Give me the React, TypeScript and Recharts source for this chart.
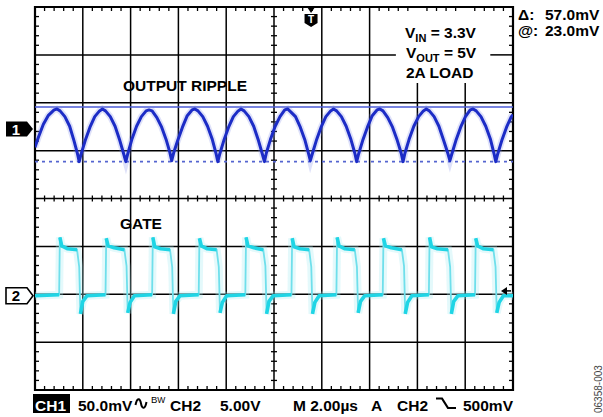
import {
  ComposedChart,
  Line,
  XAxis,
  YAxis,
  ReferenceLine,
  ReferenceArea,
  ReferenceDot,
} from 'recharts'

// screen is 10 x 8 divisions, 2.00µs/div, y in divisions from centre
const xMajor = [0, 2, 4, 6, 8, 10, 12, 14, 16, 18, 20]
const yMajor = [-4, -3, -2, -1, 0, 1, 2, 3, 4]

const CH1_POS = 1.45 // ground marker of CH1, div above centre
const CH2_POS = -2.03
const CH1_MV_PER_DIV = 50
const CH2_V_PER_DIV = 5
const TRIG_T = 11.55
const TRIG_LEVEL_V = 0.5
const CURSOR_AT_MV = 23.0
const CURSOR_DELTA_MV = 57.0

// CH1 output ripple (µs, mV)
const rippleT = [
  0, 0.15, 0.35, 0.55, 0.8, 0.92, 1.05, 1.25, 1.45, 1.63, 1.77,
  1.85, 1.93, 2.1, 2.3, 2.5, 2.7, 2.82, 2.95, 3.15, 3.35, 3.55, 3.7,
  3.8, 3.88, 4.05, 4.25, 4.45, 4.65, 4.77, 4.9, 5.1, 5.3, 5.5, 5.64,
  5.72, 5.8, 5.97, 6.17, 6.37, 6.57, 6.69, 6.82, 7.02, 7.22, 7.42, 7.57,
  7.65, 7.73, 7.9, 8.1, 8.3, 8.5, 8.62, 8.75, 8.95, 9.15, 9.35, 9.5,
  9.6, 9.68, 9.85, 10.05, 10.25, 10.45, 10.57, 10.7, 10.9, 11.1, 11.3, 11.44,
  11.52, 11.6, 11.77, 11.97, 12.17, 12.37, 12.49, 12.62, 12.82, 13.02, 13.22, 13.38,
  13.46, 13.54, 13.71, 13.91, 14.11, 14.31, 14.43, 14.56, 14.76, 14.96, 15.16, 15.32,
  15.4, 15.48, 15.65, 15.85, 16.05, 16.25, 16.37, 16.5, 16.7, 16.9, 17.1, 17.27,
  17.36, 17.44, 17.61, 17.81, 18.01, 18.21, 18.33, 18.46, 18.66, 18.86, 19.06, 19.2,
  19.28, 19.36, 19.53, 19.73, 19.93, 20.0,
]
const rippleMv = [
  -19, -8, 5, 14, 20, 21, 19, 13, 3, -12, -25,
  -34, -26, -12, 2, 13, 19, 21, 19, 13, 3, -12, -25,
  -34, -26, -11, 3, 13, 19, 20, 19, 12, 2, -12, -24,
  -33, -25, -12, 2, 14, 20, 21, 19, 13, 3, -11, -25,
  -34, -26, -12, 2, 13, 19, 21, 19, 13, 3, -12, -25,
  -34, -25, -11, 3, 13, 20, 21, 18, 13, 2, -12, -25,
  -33, -26, -12, 2, 13, 19, 21, 19, 13, 3, -11, -25,
  -34, -26, -12, 2, 14, 20, 21, 19, 12, 2, -12, -25,
  -34, -25, -11, 3, 13, 19, 21, 19, 13, 3, -12, -25,
  -33, -26, -12, 2, 13, 20, 21, 19, 13, 3, -11, -25,
  -34, -26, -12, 2, 13, 15,
]

// CH2 gate drive (µs, V)
const gateT = [
  0,
  1.01, 1.04, 1.12, 1.37, 1.76, 1.85, 1.9, 2.0, 2.18,
  2.95, 2.98, 3.06, 3.31, 3.74, 3.83, 3.88, 3.98, 4.16,
  4.9, 4.93, 5.01, 5.26, 5.65, 5.74, 5.79, 5.89, 6.07,
  6.85, 6.88, 6.96, 7.21, 7.6, 7.69, 7.74, 7.84, 8.02,
  8.8, 8.83, 8.91, 9.16, 9.55, 9.64, 9.69, 9.79, 9.97,
  10.73, 10.76, 10.84, 11.09, 11.47, 11.56, 11.61, 11.71, 11.89,
  12.61, 12.64, 12.72, 12.97, 13.38, 13.47, 13.52, 13.62, 13.8,
  14.55, 14.58, 14.66, 14.91, 15.35, 15.44, 15.49, 15.59, 15.77,
  16.48, 16.51, 16.59, 16.84, 17.28, 17.37, 17.42, 17.52, 17.7,
  18.41, 18.44, 18.52, 18.77, 19.18, 19.27, 19.32, 19.42, 19.6,
  20,
]
const gateV = [
  0,
  0.1, 6.1, 5.2, 4.9, 4.8, 3.0, -1.9, -0.6, 0,
  0.1, 6.0, 5.2, 5.0, 4.8, 3.1, -1.8, -0.7, 0,
  0.1, 6.1, 5.1, 4.9, 4.8, 3.0, -1.9, -0.6, 0,
  0.1, 6.0, 5.2, 4.9, 4.8, 3.0, -1.8, -0.7, 0,
  0.1, 6.1, 5.2, 5.0, 4.8, 3.1, -1.9, -0.6, 0,
  0.1, 6.0, 5.1, 4.9, 4.8, 3.0, -1.9, -0.7, 0,
  0.1, 6.1, 5.2, 4.9, 4.8, 3.0, -1.8, -0.6, 0,
  0.1, 6.0, 5.2, 5.0, 4.8, 3.1, -1.9, -0.7, 0,
  0.1, 6.1, 5.1, 4.9, 4.8, 3.0, -1.9, -0.6, 0,
  0.1, 6.0, 5.2, 4.9, 4.8, 3.0, -1.8, -0.7, 0,
  0,
]

const rippleData = rippleT.map((t, i) => ({ t, y: CH1_POS + rippleMv[i] / CH1_MV_PER_DIV }))
const gateData = gateT.map((t, i) => ({ t, y: CH2_POS + gateV[i] / CH2_V_PER_DIV }))

// the fast edges show faint on the scope, so the bright layer skips them
const gateLevels: { t: number; y: number | null }[] = []
gateData.forEach((p, i) => {
  gateLevels.push(p)
  if (i < gateV.length - 1 && Math.abs(gateV[i + 1] - gateV[i]) > 1.5) {
    gateLevels.push({ t: (gateT[i] + gateT[i + 1]) / 2, y: null })
  }
})

// plot geometry (for tick lengths only)
const W = 603
const H = 417
const M = { top: 7, right: 90, bottom: 27, left: 35 }
const PX_PER_US = (W - M.left - M.right) / 20
const PX_PER_DIV = (H - M.top - M.bottom) / 8

// area kept clear behind the test conditions
const PANEL = { x1: 15.1, x2: 19.05, y1: 2.41, y2: 3.88 }

type Seg = [{ x: number; y: number }, { x: number; y: number }]
const gridSegs: Seg[] = []
xMajor.slice(1, -1).forEach(t => {
  const top = t > PANEL.x1 && t < PANEL.x2 ? PANEL.y1 : 4
  gridSegs.push([{ x: t, y: -4 }, { x: t, y: top }])
})
yMajor.slice(1, -1).forEach(y => {
  if (y > PANEL.y1 && y < PANEL.y2) {
    gridSegs.push([{ x: 0, y }, { x: PANEL.x1, y }])
    gridSegs.push([{ x: PANEL.x2, y }, { x: 20, y }])
  } else {
    gridSegs.push([{ x: 0, y }, { x: 20, y }])
  }
})

// minor graticule ticks, 5 per division
const xMinor: number[] = []
for (let i = 1; i < 50; i++) if (i % 5) xMinor.push(i * 0.4)
const yMinor: number[] = []
for (let i = 1; i < 40; i++) if (i % 5) yMinor.push(-4 + i * 0.2)

const edgeDy = 4 / PX_PER_DIV
const edgeDx = 4 / PX_PER_US
const midDy = 3 / PX_PER_DIV
const midDx = 3 / PX_PER_US
const tickSegs: Seg[] = []
xMinor.forEach(t => {
  tickSegs.push([{ x: t, y: 4 }, { x: t, y: 4 - edgeDy }])
  tickSegs.push([{ x: t, y: -4 }, { x: t, y: -4 + edgeDy }])
  tickSegs.push([{ x: t, y: -midDy }, { x: t, y: midDy }])
})
yMinor.forEach(y => {
  tickSegs.push([{ x: 0, y }, { x: edgeDx, y }])
  tickSegs.push([{ x: 20, y }, { x: 20 - edgeDx, y }])
  tickSegs.push([{ x: 10 - midDx, y }, { x: 10 + midDx, y }])
})

const FONT = '"Liberation Sans", Arial, Helvetica, sans-serif'

function Ch1Marker(p: any) {
  const { cx, cy } = p
  return (
    <g>
      <path d={`M${cx - 29},${cy - 7.5} H${cx - 8} L${cx - 2},${cy} L${cx - 8},${cy + 7.5} H${cx - 29} Z`} fill="#000" />
      <text x={cx - 19} y={cy + 5.5} fill="#fff" fontSize={15} fontWeight="bold" fontFamily={FONT} textAnchor="middle">1</text>
    </g>
  )
}

function Ch2Marker(p: any) {
  const { cx, cy } = p
  return (
    <g>
      <path d={`M${cx - 29},${cy - 8} H${cx - 8} L${cx - 2},${cy} L${cx - 8},${cy + 8} H${cx - 29} Z`} fill="#fff" stroke="#000" strokeWidth={1.6} />
      <text x={cx - 19} y={cy + 5.5} fill="#000" fontSize={15} fontWeight="bold" fontFamily={FONT} textAnchor="middle">2</text>
    </g>
  )
}

function TrigMarker(p: any) {
  const { cx, cy } = p
  return (
    <g>
      <path d={`M${cx - 4},${cy} L${cx + 4},${cy} L${cx},${cy + 6} Z`} fill="#000" />
      <path d={`M${cx - 6.5},${cy + 7} H${cx + 6.5} V${cy + 16} L${cx},${cy + 20} L${cx - 6.5},${cy + 16} Z`} fill="#000" />
      <text x={cx} y={cy + 16} fill="#fff" fontSize={10} fontWeight="bold" fontFamily={FONT} textAnchor="middle">T</text>
    </g>
  )
}

function LevelMarker(p: any) {
  const { cx, cy } = p
  return (
    <g>
      <path d={`M${cx - 12},${cy} L${cx - 6},${cy - 4} L${cx - 6},${cy + 4} Z`} fill="#000" />
      <line x1={cx - 7} x2={cx - 2} y1={cy} y2={cy} stroke="#000" strokeWidth={1.5} />
    </g>
  )
}

export default function App() {
  const txt = { fontFamily: FONT, fontWeight: 'bold' as const, fontSize: 15.5, fill: '#000' }
  return (
    <div style={{ position: 'relative', width: W, height: H, background: '#fff' }}>
      <style>{'body{margin:0}'}</style>
      <ComposedChart width={W} height={H} margin={M} style={{ position: 'absolute', left: 0, top: 0 }}>
        <XAxis type="number" dataKey="t" domain={[0, 20]} ticks={xMajor} tick={false} tickLine={false} axisLine={false} height={0} allowDataOverflow />
        <YAxis type="number" dataKey="y" domain={[-4, 4]} ticks={yMajor} tick={false} tickLine={false} axisLine={false} width={0} allowDataOverflow />

        {gridSegs.map((s, i) => (
          <ReferenceLine key={'g' + i} segment={s} stroke="#000" strokeWidth={1.5} ifOverflow="visible" />
        ))}
        {tickSegs.map((s, i) => (
          <ReferenceLine key={'k' + i} segment={s} stroke="#000" strokeWidth={1.3} ifOverflow="visible" />
        ))}
        <ReferenceArea x1={0} x2={20} y1={-4} y2={4} fill="none" stroke="#000" strokeWidth={2.2} ifOverflow="visible" />

        <ReferenceLine y={CH1_POS + CURSOR_AT_MV / CH1_MV_PER_DIV} stroke="#4b5bd6" strokeWidth={1.5} />
        <ReferenceLine
          y={CH1_POS + (CURSOR_AT_MV - CURSOR_DELTA_MV) / CH1_MV_PER_DIV}
          stroke="#5565d0"
          strokeWidth={1.6}
          strokeDasharray="3 4"
        />

        <Line data={gateData} dataKey="y" type="linear" stroke="#a6ecf3" strokeOpacity={0.3} strokeWidth={8} dot={false} isAnimationActive={false} />
        <Line data={gateData} dataKey="y" type="linear" stroke="#6fdfeb" strokeWidth={1.8} dot={false} isAnimationActive={false} />
        <Line data={gateLevels} dataKey="y" type="linear" stroke="#1fd5e5" strokeWidth={3.6} dot={false} isAnimationActive={false} connectNulls={false} strokeLinejoin="round" />
        <Line data={rippleData} dataKey="y" type="linear" stroke="#7a86e6" strokeOpacity={0.25} strokeWidth={6.5} dot={false} isAnimationActive={false} />
        <Line data={rippleData} dataKey="y" type="linear" stroke="#1c2cc6" strokeWidth={3} dot={false} isAnimationActive={false} strokeLinejoin="round" />

        <ReferenceDot x={0} y={CH1_POS} r={0} ifOverflow="visible" shape={Ch1Marker} />
        <ReferenceDot x={0} y={CH2_POS} r={0} ifOverflow="visible" shape={Ch2Marker} />
        <ReferenceDot x={TRIG_T} y={4} r={0} ifOverflow="visible" shape={TrigMarker} />
        <ReferenceDot x={20} y={CH2_POS + TRIG_LEVEL_V / CH2_V_PER_DIV} r={0} ifOverflow="visible" shape={LevelMarker} />
      </ComposedChart>

      <svg width={W} height={H} style={{ position: 'absolute', left: 0, top: 0, pointerEvents: 'none' }}>
        <text x={185} y={91} textAnchor="middle" {...txt}>OUTPUT RIPPLE</text>
        <text x={141} y={229} textAnchor="middle" {...txt}>GATE</text>

        <text x={405} y={37.5} {...txt}>
          V<tspan fontSize={11} dy={4}>IN</tspan><tspan dy={-4}> = 3.3V</tspan>
        </text>
        <text x={406} y={57.5} {...txt}>
          V<tspan fontSize={11} dy={4}>OUT</tspan><tspan dy={-4}> = 5V</tspan>
        </text>
        <text x={406} y={78} {...txt}>2A LOAD</text>

        <text x={518} y={20} {...txt}>Δ:</text>
        <text x={545} y={20} {...txt}>57.0mV</text>
        <text x={518} y={35.5} {...txt}>@:</text>
        <text x={545} y={35.5} {...txt}>23.0mV</text>

        <rect x={33} y={394} width={37} height={19} fill="#000" />
        <text x={35} y={410.5} {...txt} fill="#fff">CH1</text>
        <text x={78} y={410.5} {...txt}>50.0mV</text>
        <path d="M135.5,405 C137,397.5 140,397.5 141,403.5 C142,409.5 145,409.5 146.5,402" fill="none" stroke="#000" strokeWidth={2} />
        <text x={151} y={403} {...txt} fontWeight="normal" fontSize={9.5}>B<tspan fontSize={8.5}>W</tspan></text>
        <text x={170} y={410.5} {...txt}>CH2</text>
        <text x={220} y={410.5} {...txt}>5.00V</text>
        <text x={293} y={410.5} {...txt}>M 2.00µs</text>
        <text x={371} y={410.5} {...txt}>A</text>
        <text x={397} y={410.5} {...txt}>CH2</text>
        <path d="M436,398.5 H442 L448,408 H456" fill="none" stroke="#000" strokeWidth={2.2} />
        <text x={463} y={410.5} {...txt}>500mV</text>

        <text transform="translate(601.5,413) rotate(-90)" x={0} y={0} fontFamily={FONT} fontSize={10} fill="#444">06358-003</text>
      </svg>
    </div>
  )
}
